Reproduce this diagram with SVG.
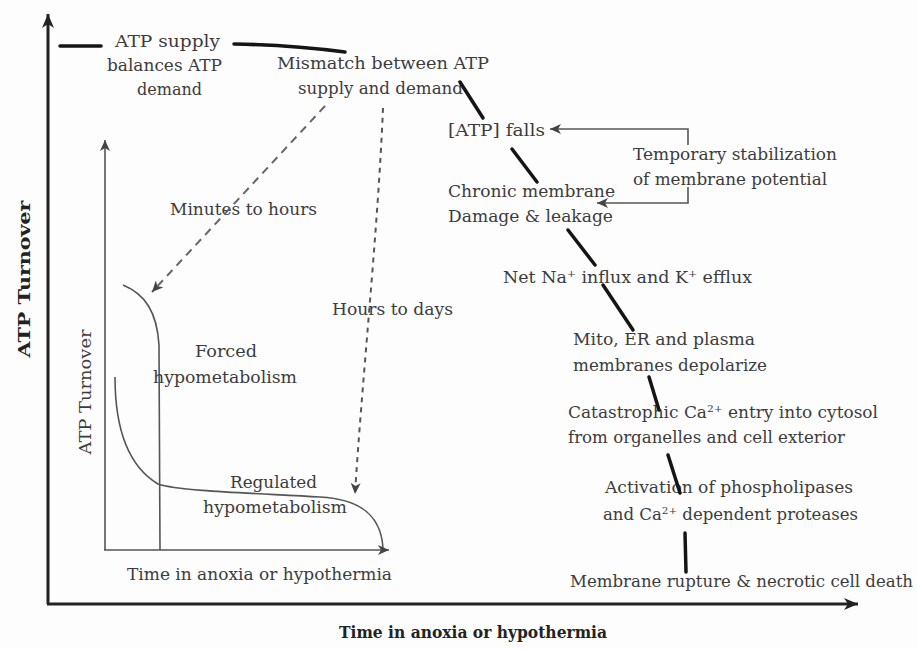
<svg xmlns="http://www.w3.org/2000/svg" width="917" height="649" viewBox="0 0 917 649">
<style>
.t{font-family:"DejaVu Serif","Liberation Serif",serif;font-size:16px;fill:#3c3c3c}
.b{font-family:"DejaVu Serif","Liberation Serif",serif;font-size:17px;font-weight:bold;fill:#222}
.thick{stroke:#151515;stroke-width:3.5;fill:none;stroke-linecap:round}
.ax{stroke:#222;stroke-width:3;fill:none}
.ix{stroke:#555;stroke-width:1.6;fill:none}
.dash1{stroke:#666;stroke-width:2;fill:none;stroke-dasharray:8 6}
.dash2{stroke:#555;stroke-width:2;fill:none;stroke-dasharray:5 5}
.fb{stroke:#555;stroke-width:1.6;fill:none}
</style>
<defs>
<marker id="ah" markerUnits="userSpaceOnUse" markerWidth="18" markerHeight="14" refX="14" refY="6" orient="auto">
<path d="M0,0 L14,6 L0,12 L4,6 Z" fill="#222"/>
</marker>
<marker id="ahs" markerUnits="userSpaceOnUse" markerWidth="14" markerHeight="12" refX="11" refY="5" orient="auto">
<path d="M0,0 L11,5 L0,10 L3,5 Z" fill="#444"/>
</marker>
</defs>
<rect width="917" height="649" fill="#fdfdfd"/>

<g id="axes">
<line class="ax" x1="48" y1="604" x2="48" y2="14" marker-end="url(#ah)"/>
<line class="ax" x1="47" y1="604" x2="858" y2="604" marker-end="url(#ah)"/>
<text class="b" transform="translate(30,279) rotate(-90)" text-anchor="middle" textLength="157" lengthAdjust="spacingAndGlyphs">ATP Turnover</text>
<text class="b" x="339" y="638" textLength="268" lengthAdjust="spacingAndGlyphs">Time in anoxia or hypothermia</text>
</g>

<g id="inset">
<line class="ix" x1="105" y1="550" x2="105" y2="140" marker-end="url(#ahs)"/>
<line class="ix" x1="104" y1="550" x2="389" y2="550" marker-end="url(#ahs)"/>
<path class="ix" d="M123,285 C145,294 157,312 159,345 L160,550"/>
<path class="ix" d="M115,377 C115,430 128,466 158,484 C178,491 250,493 320,497 C360,499 381,515 383,548"/>
<text class="t" transform="translate(91,392) rotate(-90)" text-anchor="middle" textLength="125" lengthAdjust="spacingAndGlyphs">ATP Turnover</text>
<text class="t" x="127" y="580" textLength="265" lengthAdjust="spacingAndGlyphs">Time in anoxia or hypothermia</text>
<text class="t" x="195" y="357" textLength="62" lengthAdjust="spacingAndGlyphs">Forced</text>
<text class="t" x="153" y="383" textLength="144" lengthAdjust="spacingAndGlyphs">hypometabolism</text>
<text class="t" x="230" y="488" textLength="87" lengthAdjust="spacingAndGlyphs">Regulated</text>
<text class="t" x="203" y="513" textLength="144" lengthAdjust="spacingAndGlyphs">hypometabolism</text>
</g>

<g id="n-balance">
<text class="t" x="115" y="47" textLength="105" lengthAdjust="spacingAndGlyphs">ATP supply</text>
<text class="t" x="107" y="71" textLength="115" lengthAdjust="spacingAndGlyphs">balances ATP</text>
<text class="t" x="137" y="95" textLength="65" lengthAdjust="spacingAndGlyphs">demand</text>
</g>
<g id="n-mismatch">
<text class="t" x="277" y="69" textLength="212" lengthAdjust="spacingAndGlyphs">Mismatch between ATP</text>
<text class="t" x="298" y="94" textLength="165" lengthAdjust="spacingAndGlyphs">supply and demand</text>
</g>
<g id="n-atpfalls">
<text class="t" x="448" y="136" textLength="97" lengthAdjust="spacingAndGlyphs">[ATP] falls</text>
</g>
<g id="n-temporary">
<text class="t" x="633" y="160" textLength="204" lengthAdjust="spacingAndGlyphs">Temporary stabilization</text>
<text class="t" x="633" y="185" textLength="194" lengthAdjust="spacingAndGlyphs">of membrane potential</text>
</g>
<g id="n-chronic">
<text class="t" x="448" y="197" textLength="167" lengthAdjust="spacingAndGlyphs">Chronic membrane</text>
<text class="t" x="448" y="222" textLength="165" lengthAdjust="spacingAndGlyphs">Damage &amp; leakage</text>
</g>
<g id="n-na">
<text class="t" x="503" y="283" textLength="249" lengthAdjust="spacingAndGlyphs">Net Na<tspan font-size="10" dy="-6">+</tspan><tspan dy="6"> influx and K</tspan><tspan font-size="10" dy="-6">+</tspan><tspan dy="6"> efflux</tspan></text>
</g>
<g id="n-mito">
<text class="t" x="573" y="345" textLength="182" lengthAdjust="spacingAndGlyphs">Mito, ER and plasma</text>
<text class="t" x="573" y="371" textLength="194" lengthAdjust="spacingAndGlyphs">membranes depolarize</text>
</g>
<g id="n-ca">
<text class="t" x="568" y="418" textLength="310" lengthAdjust="spacingAndGlyphs">Catastrophic Ca<tspan font-size="10" dy="-6">2+</tspan><tspan dy="6"> entry into cytosol</tspan></text>
<text class="t" x="568" y="443" textLength="277" lengthAdjust="spacingAndGlyphs">from organelles and cell exterior</text>
</g>
<g id="n-activation">
<text class="t" x="605" y="493" textLength="248" lengthAdjust="spacingAndGlyphs">Activation of phospholipases</text>
<text class="t" x="603" y="520" textLength="255" lengthAdjust="spacingAndGlyphs">and Ca<tspan font-size="10" dy="-6">2+</tspan><tspan dy="6"> dependent proteases</tspan></text>
</g>
<g id="n-rupture">
<text class="t" x="570" y="587" textLength="343" lengthAdjust="spacingAndGlyphs">Membrane rupture &amp; necrotic cell death</text>
</g>
<g id="n-minutes">
<text class="t" x="170" y="215" textLength="147" lengthAdjust="spacingAndGlyphs">Minutes to hours</text>
</g>
<g id="n-hours">
<text class="t" x="332" y="315" textLength="121" lengthAdjust="spacingAndGlyphs">Hours to days</text>
</g>

<g id="connectors">
<line class="thick" x1="60" y1="46" x2="101" y2="46"/>
<path class="thick" d="M234,44 Q290,45 345,52"/>
<line class="thick" x1="460" y1="82" x2="483" y2="118"/>
<line class="thick" x1="512" y1="149" x2="537" y2="182"/>
<line class="thick" x1="568" y1="230" x2="595" y2="265"/>
<line class="thick" x1="603" y1="285" x2="633" y2="330"/>
<line class="thick" x1="649" y1="377" x2="659" y2="410"/>
<line class="thick" x1="668" y1="455" x2="680" y2="493"/>
<line class="thick" x1="685" y1="533" x2="686" y2="572"/>
<path class="fb" d="M688,145 L688,129 L550,129" marker-end="url(#ahs)"/>
<path class="fb" d="M688,187 L688,203 L597,203" marker-end="url(#ahs)"/>
<line class="dash1" x1="325" y1="106" x2="152" y2="292" marker-end="url(#ahs)"/>
<path class="dash2" d="M383,108 C378,230 362,380 355,494" marker-end="url(#ahs)"/>
</g>
</svg>
